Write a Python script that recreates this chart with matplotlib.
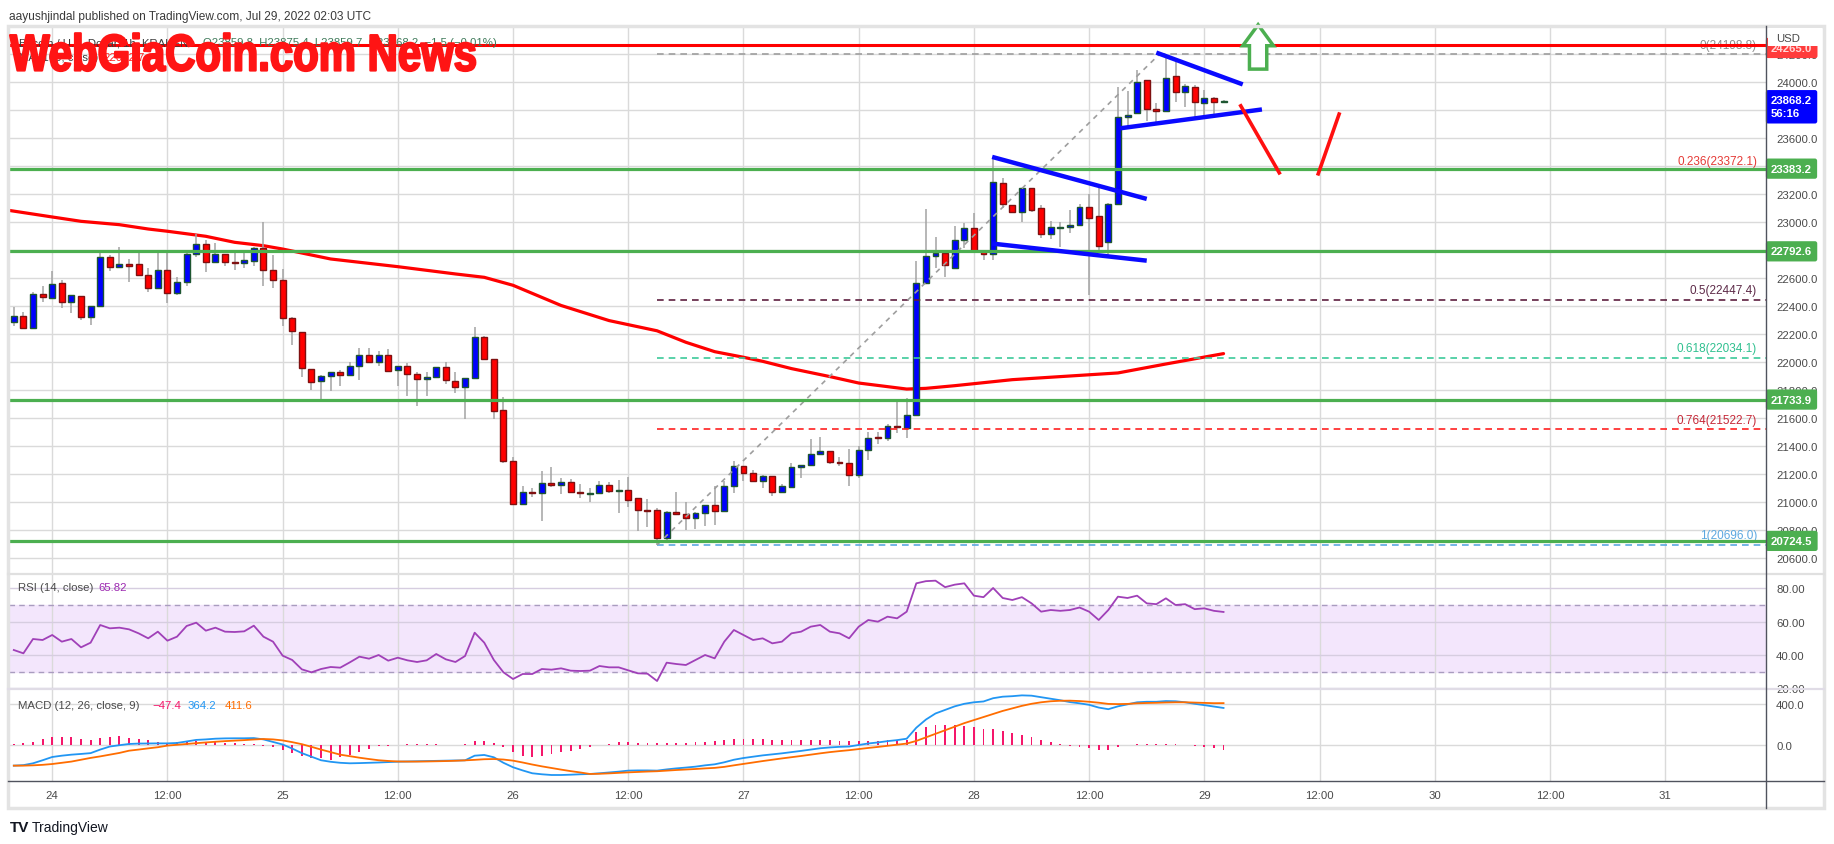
import matplotlib
matplotlib.use("Agg")
import matplotlib.pyplot as plt
import matplotlib.transforms as mtransforms
import matplotlib.patheffects as pe
from matplotlib.lines import Line2D
from matplotlib.patches import Rectangle, Polygon
import numpy as np

W, H, DPI = 1834, 845, 100
FONT = ['Liberation Sans', 'DejaVu Sans']
plt.rcParams['font.family'] = FONT

# ---------------- data (hours counted from 24 Jul 2022 00:00 UTC) ----------------
hours = list(range(-4, 123))
opens = [22286, 22329, 22243, 22486, 22457, 22564, 22429, 22471, 22321, 22400, 22750, 22679, 22705, 22700,
         22621, 22529, 22657, 22493, 22571, 22771, 22843, 22714, 22771, 22717, 22707, 22724, 22814,
         22657, 22588, 22314, 22214, 21950, 21864, 21900, 21929, 21907, 21971, 22050, 22000, 22050, 21943,
         21971, 21914, 21879, 21893, 21964, 21864, 21821, 21886, 22179, 22021, 21657,
         21293, 20986, 21071, 21064, 21136, 21121, 21143, 21071, 21057, 21064, 21121, 21079, 21086, 21029,
         20945, 20943, 20743, 20929, 20914, 20886, 20921, 20979, 20936, 21114, 21257, 21207, 21150,
         21186, 21071, 21107, 21250, 21264, 21343, 21364, 21288, 21279, 21193, 21371, 21467, 21457, 21543,
         21529, 21621,
         22567, 22760, 22781, 22674, 22874, 22960, 22795, 22774, 23281,
         23126, 23071, 23243, 23100, 22914, 22962, 22967, 22979, 23107, 23045, 22862, 23131, 23750, 23779,
         24014, 23812, 23793, 24043, 23929, 23964, 23850, 23886, 23859.8]
highs = [22393, 22357, 22500, 22548, 22652, 22586, 22479, 22471, 22400, 22779, 22764, 22824, 22738, 22779,
         22674, 22793, 22779, 22607, 22793, 22917, 22874, 22852, 22771, 22790, 22788, 22821, 23000,
         22767, 22667, 22321, 22214, 21950, 21910, 21933, 21945, 22000, 22100, 22100, 22079, 22093, 21971,
         21993, 21933, 21933, 21964, 22000, 21929, 21886, 22255, 22190, 22021, 21750,
         21321, 21119, 21100, 21221, 21255, 21171, 21164, 21129, 21100, 21150, 21143, 21157, 21179, 21029,
         21021, 20957, 20936, 21071, 21000, 20929, 20979, 21114, 21155, 21293, 21257, 21229, 21193,
         21186, 21129, 21281, 21264, 21452, 21464, 21364, 21321, 21381, 21400, 21500, 21500, 21557, 21714,
         21743, 22726,
         23098, 22898, 22781, 22971, 22995, 23069, 22795, 23467, 23317,
         23126, 23243, 23243, 23124, 23007, 23000, 23088, 23129, 23200, 23243, 23138, 23964, 23938, 24088,
         24014, 23850, 24198.8, 24145, 23986, 23979, 23945, 23893, 23875.4]
lows = [22257, 22243, 22243, 22433, 22457, 22386, 22352, 22305, 22269, 22400, 22655, 22679, 22576, 22621,
        22505, 22529, 22426, 22481, 22548, 22755, 22643, 22714, 22690, 22662, 22671, 22690, 22543,
        22529, 22262, 22126, 21893, 21805, 21738, 21798, 21829, 21907, 21876, 22000, 21971, 21936, 21829,
        21762, 21690, 21757, 21893, 21843, 21779, 21595, 21886, 22014, 21595, 21280,
        20986, 20986, 21036, 20864, 21107, 21057, 21071, 21029, 21000, 21064, 21064, 20921, 20964, 20798,
        20826, 20696, 20720, 20914, 20800, 20807, 20829, 20836, 20929, 21064, 21150, 21150, 21100,
        21048, 21071, 21107, 21171, 21264, 21343, 21276, 21257, 21119, 21174, 21300, 21414, 21438, 21495,
        21457, 21621,
        22560, 22674, 22610, 22674, 22817, 22795, 22729, 22729, 23102,
        23071, 23005, 23071, 22890, 22883, 22826, 22926, 22979, 22481, 22798, 22767, 23131, 23679, 23771,
        23726, 23712, 23793, 23860, 23826, 23750, 23750, 23771, 23859.7]
closes = [22329, 22243, 22486, 22464, 22557, 22429, 22479, 22321, 22400, 22750, 22679, 22705, 22686, 22621,
          22529, 22657, 22493, 22571, 22771, 22843, 22714, 22771, 22714, 22707, 22731, 22814, 22657,
          22588, 22314, 22221, 21957, 21857, 21900, 21929, 21907, 21971, 22050, 22000, 22050, 21936, 21971,
          21914, 21879, 21893, 21964, 21871, 21821, 21886, 22179, 22021, 21650, 21293,
          20986, 21071, 21064, 21136, 21121, 21143, 21071, 21064, 21064, 21121, 21079, 21086, 21014, 20943,
          20940, 20743, 20929, 20914, 20886, 20921, 20979, 20936, 21114, 21257, 21207, 21150, 21186,
          21071, 21114, 21250, 21264, 21343, 21364, 21286, 21279, 21198, 21371, 21462, 21462, 21543, 21536,
          21621, 22564,
          22760, 22781, 22695, 22874, 22960, 22795, 22774, 23288, 23131,
          23071, 23243, 23086, 22914, 22964, 22967, 22979, 23107, 23029, 22833, 23131, 23750, 23764, 24000,
          23812, 23793, 24029, 23929, 23971, 23857, 23886, 23862, 23868.2]
rsi = [43, 41, 49.6, 49, 52, 48, 49.6, 44.6, 47.4, 58, 56, 56.4, 55.4, 53, 50, 54, 48.6, 51, 57.4, 59.4,
       54.6, 56.4, 54, 53.8, 54.2, 57.6, 51,
       48, 39.6, 37, 31.4, 29.6, 31.6, 32.8, 32.4, 35.6, 39, 37.8, 40, 36.6, 38.4, 36.8, 35.8, 36.8, 40.6,
       37.4, 35.8, 39.4, 53.4, 47.4, 37, 29.6,
       25.6, 28.6, 28.6, 31.6, 31.2, 32, 30.6, 30.4, 30.6, 33.4, 32.6, 32.6, 30.8, 29, 28.8, 24.4, 35.4,
       34.6, 34, 37, 40, 38, 48, 55, 52, 49, 50,
       47, 48, 53, 54, 57, 58, 54, 53, 50, 57, 61, 60, 63, 62, 66, 83,
       84.3, 84.6, 80.7, 82.2, 83, 75.6, 74.7, 80.2, 74.2,
       73, 74.7, 71, 66, 67, 66.5, 67, 68.5, 66, 61, 67, 75, 74.2, 75.6, 71, 70.5, 74, 70, 70.5, 67.5, 68,
       66.5, 65.82]
macd_line = [-203, -198, -180, -150, -118, -105, -95, -88, -80, -45, -15, -2, 10, 14, 15, 16, 16, 20, 35, 50,
             55, 62, 65, 66, 66, 68, 55,
             30, 5, -35, -80, -115, -150, -165, -175, -180, -178, -175, -172, -168, -164, -162, -160, -158,
             -156, -154, -152, -151, -105, -98, -121, -175,
             -219, -250, -278, -288, -295, -295, -292, -288, -285, -278, -270, -262, -252, -250, -250, -252,
             -240, -230, -222, -213, -200, -190, -170, -145, -128, -115, -102,
             -92, -82, -70, -58, -45, -32, -24, -18, -15, 0, 15, 25, 38, 48, 62, 170,
             250, 310, 345, 380, 405, 420, 428, 460, 475,
             480, 488, 485, 470, 455, 440, 422, 410, 395, 368, 352, 380, 400, 420, 425, 425, 432, 430, 420,
             405, 392, 378, 364.2]
signal_line = [-203, -203, -200, -195, -187, -175, -163, -145, -127, -112, -95, -78, -56, -45, -33, -22, -6, 2,
               10, 18, 25, 32, 38, 43, 48, 54, 59,
               55, 45, 28, 8, -18, -45, -70, -95, -110, -125, -138, -150, -157, -162, -163, -163, -162,
               -160, -158, -155, -151, -146, -140, -138, -143,
               -154, -172, -192, -210, -226, -242, -257, -270, -285, -283, -279, -274, -269, -265, -261,
               -258, -252, -246, -241, -236, -230, -225, -215, -200, -186, -172, -158,
               -145, -132, -120, -108, -95, -82, -70, -60, -51, -40, -29, -19, -8, 3, 14, 40,
               75, 110, 145, 180, 215, 245, 275, 305, 335,
               360, 385, 405, 420, 430, 435, 436, 432, 425, 416, 404, 402, 404, 410, 413, 415, 418, 420, 420,
               417, 414, 411, 411.6]
macd_hist = [13, 20, 33, 56, 79, 82, 79, 59, 49, 66, 75, 85, 72, 59, 46, 33, 23, 26, 33, 36, 33, 26, 20, 20,
             13, 13, -7,
             -23, -46, -79, -105, -131, -125, -144, -115, -102, -66, -39, -13, -7, 3, 7, 7, 10, 7, 3, 3, 10,
             39, 36, 16, -20,
             -72, -105, -118, -111, -89, -72, -56, -39, -16, 3, 10, 26, 30, 23, 20, 16, 20, 16, 20, 26, 30,
             35, 45, 55, 58, 57, 56,
             53, 50, 50, 50, 50, 50, 46, 42, 36, 40, 44, 44, 46, 45, 48, 130,
             175, 200, 200, 200, 190, 175, 153, 155, 140,
             120, 103, 80, 50, 25, 5, -14, -22, -30, -48, -52, -22, -4, 10, 12, 10, 14, 10, 0, -12, -22, -33,
             -47.4]
sma_hours = [-4.5, 0, 3, 7, 10, 12, 16, 19, 22, 24, 29, 36, 42, 45, 48, 53, 58, 63, 66, 69, 72, 74, 77, 81,
             84, 89, 91, 94, 100, 111, 116, 122]
sma_values = [23085, 23038, 23007, 22983, 22952, 22936, 22900, 22857, 22833, 22809, 22738, 22683, 22631,
              22607, 22550, 22406, 22298, 22225, 22143, 22076, 22036, 22007, 21955, 21898, 21852, 21809,
              21814, 21833, 21876, 21924, 21988, 22062]

support_levels = [23383.2, 22792.6, 21733.9, 20724.5]
resistance_level = 24265.0
fib_labels = ['0', '0.236', '0.5', '0.618', '0.764', '1']
fib_prices = [24198.8, 23372.1, 22447.4, 22034.1, 21522.7, 20696.0]
fib_start_hour = 63
swing_hours = [63, 115.3]
swing_prices = [20696.0, 24198.8]
flag_upper = ([97.9, 114.0], [23467, 23167])
flag_lower = ([97.9, 114.0], [22848, 22726])
tri_upper = ([115.0, 124.0], [24212, 23985])
tri_lower = ([111.2, 126.0], [23671, 23806])
red_down = ([123.7, 127.9], [23843, 23342])
red_up = ([131.8, 134.1], [23334, 23785])
arrow_x = [124.7, 126.5, 126.5, 127.2, 125.6, 124.0, 124.7]
arrow_y = [24094, 24094, 24261, 24261, 24411, 24261, 24261]
time_ticks = list(range(0, 169, 12))
time_labels = ['24', '12:00', '25', '12:00', '26', '12:00', '27', '12:00', '28', '12:00', '29', '12:00',
               '30', '12:00', '31']
price_ticks = list(range(20600, 24201, 200))
rsi_ticks = [80, 60, 40, 20]
macd_ticks = [400, 0]
last_price = 23868.2

# ---------------- styling ----------------
GRID = '#dadada'
AXC = '#4a4a4a'
LAB = 8.2

fig = plt.figure(figsize=(W / DPI, H / DPI), dpi=DPI)
fig.patch.set_facecolor('white')


def fx(x):
    return x / W


def fy(y):
    return 1 - y / H


class Squeeze(pe.AbstractPathEffect):
    """Draw text glyphs horizontally condensed around x0 (display px), with a thickening stroke."""

    def __init__(self, sx, x0, lw, color):
        super().__init__()
        self.sx, self.x0, self.lw, self.color = sx, x0, lw, color

    def draw_path(self, renderer, gc, tpath, affine, rgbFace=None):
        aff = affine + mtransforms.Affine2D().translate(-self.x0, 0).scale(self.sx, 1).translate(self.x0, 0)
        gc0 = renderer.new_gc()
        gc0.copy_properties(gc)
        gc0.set_linewidth(self.lw)
        gc0.set_foreground(self.color)
        renderer.draw_path(gc0, tpath, aff, rgbFace)
        gc0.restore()


L, R = 9, 1766


def rect(top, bottom):
    return [L / W, 1 - bottom / H, (R - L) / W, (bottom - top) / H]


ax = fig.add_axes(rect(27, 575))
axr = fig.add_axes(rect(575, 690))
axm = fig.add_axes(rect(690, 782))
XL = (-4.5, 178.5)

axr.axhspan(30, 70, color='#f3e6fc', zorder=-1)
for a in (ax, axr, axm):
    a.set_xlim(*XL)
    for s in a.spines.values():
        s.set_visible(False)
    a.set_xticks([])
    a.yaxis.tick_right()
    a.tick_params(axis='y', length=0, pad=7.3, labelsize=LAB, labelcolor=AXC)
    a.set_facecolor('none')
    for t in time_ticks:
        a.axvline(t, color=GRID, lw=1, zorder=0)

ax.set_ylim(20488, 24402)
axr.set_ylim(19.6, 88.6)
axm.set_ylim(-354, 550.6)

# main price grid and ticks
for p in price_ticks:
    ax.axhline(p, color=GRID, lw=1, zorder=0)
ax.set_yticks(price_ticks)
ax.set_yticklabels([f'{p:.1f}' for p in price_ticks])

# SMA 100
ax.plot(sma_hours, sma_values, color='#ff0000', lw=2.3, zorder=2.5, solid_capstyle='round')

# candles
o = np.array(opens, float)
c = np.array(closes, float)
hi = np.array(highs, float)
lo = np.array(lows, float)
hx = np.array(hours, float)
up = c >= o
blow = np.minimum(o, c)
bh = np.maximum(np.abs(c - o), 4)
ax.vlines(hx, lo, hi, color='#a3a3a3', lw=1.1, zorder=3)
ax.bar(hx[up], bh[up], bottom=blow[up], width=0.62, color='#0000ff', edgecolor='#1e5631', lw=1, zorder=4)
ax.bar(hx[~up], bh[~up], bottom=blow[~up], width=0.62, color='#ff0000', edgecolor='#7f1010', lw=1, zorder=4)

# fibonacci retracement
fib_line_colors = ['#9e9e9e', '#ff2020', '#5d1f3f', '#3cc99a', '#ff2020', '#5ca8e0']
fib_text_colors = ['#8a8a8a', '#e53935', '#5d2a48', '#2fc08f', '#c62838', '#5ca8e0']
blend = mtransforms.blended_transform_factory(ax.transAxes, ax.transData)
for lab, p, lc, tc in zip(fib_labels, fib_prices, fib_line_colors, fib_text_colors):
    ax.hlines(p, fib_start_hour, XL[1], colors=lc, lw=1.2, linestyles=(0, (4, 3)), zorder=5)
    ax.annotate(f'{lab}({p:.1f})', xy=(0.9949, p), xycoords=blend, xytext=(0, 2.5),
                textcoords='offset points', ha='right', va='bottom', fontsize=8.5, color=tc, zorder=6)
ax.plot(swing_hours, swing_prices, color='#9e9e9e', lw=1.2, ls=(0, (3, 3)), zorder=5)

# horizontal levels
for p in support_levels:
    ax.axhline(p, color='#4caf50', lw=2.3, zorder=6)
ax.axhline(resistance_level, color='#ff0000', lw=2.2, zorder=6)

# drawn patterns
for xs, ys in (flag_upper, flag_lower, tri_upper, tri_lower):
    ax.plot(xs, ys, color='#0a0aff', lw=3.2, zorder=7, solid_capstyle='butt')
for xs, ys in (red_down, red_up):
    ax.plot(xs, ys, color='#ff1010', lw=2.6, zorder=7, solid_capstyle='butt')
ax.add_patch(Polygon(list(zip(arrow_x, arrow_y)), closed=True, fc='white', ec='#4caf50', lw=2.5,
                     zorder=8, clip_on=False))


# axis label boxes
def axis_box(axis, price, text, fc, tc='white', weight='bold', dy=0, va='center'):
    bt = mtransforms.blended_transform_factory(axis.transAxes, axis.transData)
    axis.annotate(text, xy=(1, price), xycoords=bt, xytext=(3.6, dy), textcoords='offset points',
                  ha='left', va=va, fontsize=LAB, color=tc, fontweight=weight, linespacing=1.4,
                  bbox=dict(boxstyle='round,pad=0.45,rounding_size=0.2', fc=fc, ec='none'),
                  annotation_clip=False, zorder=10)


axis_box(ax, resistance_level, f'{resistance_level:.1f}', '#ff3b3b', tc='#ffd6d6', dy=-2)
for p in support_levels:
    axis_box(ax, p, f'{p:.1f}', '#4caf50')
axis_box(ax, last_price, f'{last_price:.1f}\n56:16', '#0000ff', dy=4.0, va='top')

# RSI panel
axr.axhline(70, color='#a99cbf', lw=1, ls=(0, (4, 3)), zorder=1)
axr.axhline(30, color='#a99cbf', lw=1, ls=(0, (4, 3)), zorder=1)
for t in rsi_ticks:
    axr.axhline(t, color='#d6cde0', lw=1, zorder=0.5)
axr.plot(hx, rsi, color='#a040b8', lw=1.3, zorder=3)
axr.set_yticks(rsi_ticks)
axr.set_yticklabels([f'{t:.2f}' for t in rsi_ticks])

# MACD panel
for t in macd_ticks:
    axm.axhline(t, color=GRID, lw=1, zorder=0.5)
axm.bar(hx, macd_hist, width=0.2, color='#f5176b', zorder=2)
axm.plot(hx, macd_line, color='#2196f3', lw=1.3, zorder=3)
axm.plot(hx, signal_line, color='#ff6d00', lw=1.3, zorder=3)
axm.set_yticks(macd_ticks)
axm.set_yticklabels([f'{t:.1f}' for t in macd_ticks])

# time axis labels
tb = mtransforms.blended_transform_factory(axm.transData, axm.transAxes)
for t, lab in zip(time_ticks, time_labels):
    axm.text(t, -(796 - 782) / 92, lab, transform=tb, ha='center', va='center', fontsize=LAB,
             color=AXC, clip_on=False)

# frame and separators
fig.add_artist(Line2D([fx(8), fx(1824)], [fy(575)] * 2, color='#e0e0e0', lw=1.6))
fig.add_artist(Line2D([fx(8), fx(1824)], [fy(690)] * 2, color='#e0dce6', lw=1.6))
fig.add_artist(Line2D([fx(8), fx(1824)], [fy(782)] * 2, color='#50535e', lw=1.0))
fig.add_artist(Line2D([fx(1766)] * 2, [fy(27), fy(809)], color='#50535e', lw=1.0))
fig.add_artist(Rectangle((fx(8), fy(809)), (1824 - 8) / W, (809 - 27) / H, transform=fig.transFigure,
                         fill=False, ec='#e3e3e3', lw=2.5))
fig.add_artist(Rectangle((fx(1767.5), fy(46.5)), (1822 - 1767.5) / W, (46.5 - 28.5) / H,
                         transform=fig.transFigure, fc='white', ec='none', zorder=4))
fig.text(fx(1776), fy(39), 'USD', fontsize=LAB, color=AXC, va='center', ha='left', zorder=5)

# texts
fig.text(fx(9), fy(17), 'aayushjindal published on TradingView.com, Jul 29, 2022 02:03 UTC',
         fontsize=8.6, color='#3a3a3a', va='center', ha='left')
fig.text(fx(19), fy(43), 'Bitcoin / U.S. Dollar, 1h, KRAKEN', fontsize=8.2, color='#3a3a3a',
         va='center', ha='left', zorder=3)
fig.text(fx(203), fy(43), 'O23859.8  H23875.4  L23859.7  C23868.2  \u22121.5 (\u22120.01%)', fontsize=8.2,
         color='#3f7a5a', va='center', ha='left', zorder=3)
fig.text(fx(19), fy(58), 'MA (100, close)', fontsize=8.2, color='#3a3a3a', va='center', ha='left', zorder=3)
fig.text(fx(103), fy(58), '22062.7', fontsize=8.2, color='#ff2020', va='center', ha='left', zorder=3)
wm_color = '#ff1414'
fig.text(fx(10), fy(71.5), 'WebGiaCoin.com News', fontsize=37, fontweight='bold',
         family=['Liberation Sans', 'DejaVu Sans'], color=wm_color,
         va='baseline', ha='left', zorder=20,
         path_effects=[Squeeze(0.815, 10, 1.6, wm_color)])

fig.text(fx(18), fy(588), 'RSI (14, close)', fontsize=8.2, color='#4a4a4a', va='center', ha='left')
fig.text(fx(98), fy(588), '65.82', fontsize=8.2, color='#9c27b0', va='center', ha='left')
fig.text(fx(18), fy(706), 'MACD (12, 26, close, 9)', fontsize=8.2, color='#4a4a4a', va='center', ha='left')
fig.text(fx(152), fy(706), '\u221247.4', fontsize=8.2, color='#f5176b', va='center', ha='left')
fig.text(fx(188), fy(706), '364.2', fontsize=8.2, color='#2196f3', va='center', ha='left')
fig.text(fx(225), fy(706), '411.6', fontsize=8.2, color='#ff6d00', va='center', ha='left')

fig.text(fx(10), fy(828), 'TV', fontsize=11, fontweight='heavy', color='#131722', va='center', ha='left')
fig.text(fx(32), fy(828), 'TradingView', fontsize=10, color='#131722', va='center', ha='left')

fig.savefig('out.png', dpi=DPI, facecolor='white')
